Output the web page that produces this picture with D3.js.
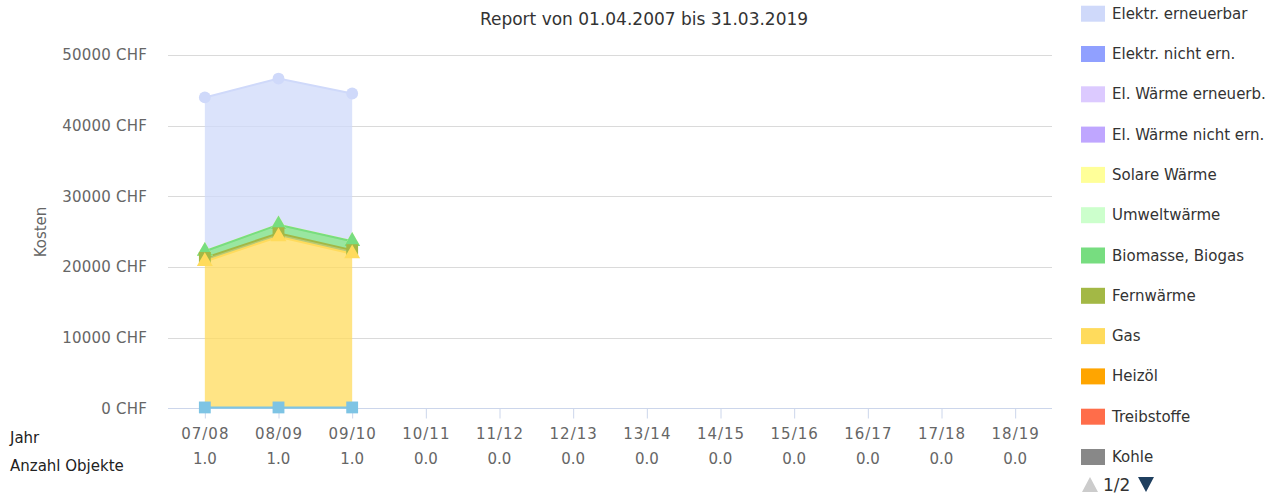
<!DOCTYPE html>
<html>
<head>
<meta charset="utf-8">
<script src="https://cdn.jsdelivr.net/npm/d3@7"></script>
<style>
  body { margin: 0; background: #fff; }
  text { font-family: "DejaVu Sans", "Lucida Grande", sans-serif; }
</style>
</head>
<body>
<script>
// categories + row below the axis
var years = ["07/08", "08/09", "09/10", "10/11", "11/12", "12/13", "13/14", "14/15", "15/16", "16/17", "17/18", "18/19"];
var objectCounts = ["1.0", "1.0", "1.0", "0.0", "0.0", "0.0", "0.0", "0.0", "0.0", "0.0", "0.0", "0.0"];
var yTicks = [0, 10000, 20000, 30000, 40000, 50000];

// series, in legend order (first one sits on top of the stack)
var seriesNames = ["Elektr. erneuerbar", "Elektr. nicht ern.", "El. Wärme erneuerb.", "El. Wärme nicht ern.",
  "Solare Wärme", "Umweltwärme", "Biomasse, Biogas", "Fernwärme", "Gas", "Heizöl", "Treibstoffe", "Kohle", "Weitere"];
var elektrErneuerbar = [21750, 20670, 20900];
var elektrNichtErn = [];
var elWaermeErneuerb = [];
var elWaermeNichtErn = [];
var solareWaerme = [0, 0, 0];
var umweltwaerme = [];
var biomasse = [950, 1200, 1250];
var fernwaerme = [500, 500, 500];
var gas = [20650, 24150, 21750];
var heizoel = [];
var treibstoffe = [];
var kohle = [];
var weitere = [150, 150, 150];
var seriesValues = [elektrErneuerbar, elektrNichtErn, elWaermeErneuerb, elWaermeNichtErn, solareWaerme,
  umweltwaerme, biomasse, fernwaerme, gas, heizoel, treibstoffe, kohle, weitere];

// styling
var colors = ["#cfd9fa", "#90a0ff", "#dccaff", "#bfa6ff", "#ffff99", "#ccffcc", "#77dd80", "#a3b845",
  "#ffdb5c", "#ffa500", "#ff6d4a", "#888888", "#7ec4e4"];
var symbols = [d3.symbolCircle, d3.symbolDiamond, d3.symbolSquare, d3.symbolTriangle, d3.symbolTriangle,
  d3.symbolCircle, d3.symbolTriangle, d3.symbolSquare, d3.symbolTriangle, d3.symbolTriangle,
  d3.symbolCircle, d3.symbolDiamond, d3.symbolSquare];

var drawChart = function() {
  var width = 1278, height = 499;
  var left = 168, right = 1052, plotTop = 55, bottom = 408.5;

  var svg = d3.select("body").append("svg")
    .attr("width", width)
    .attr("height", height);

  var x = d3.scalePoint().domain(years).range([left, right]).padding(0.5);
  var y = d3.scaleLinear().domain([0, 50000]).range([bottom, plotTop]);

  // title
  svg.append("text")
    .attr("x", 644).attr("y", 25)
    .attr("text-anchor", "middle")
    .attr("font-size", 17)
    .attr("fill", "#333")
    .text("Report von 01.04.2007 bis 31.03.2019");

  // gridlines
  svg.append("g").selectAll("line")
    .data(yTicks.filter(function(d) { return d > 0; }))
    .enter().append("line")
    .attr("x1", left).attr("x2", right)
    .attr("y1", function(d) { return Math.round(y(d)) + 0.5; })
    .attr("y2", function(d) { return Math.round(y(d)) + 0.5; })
    .attr("stroke", "#dadada");

  // y axis labels
  var yAxis = d3.axisLeft(y).tickValues(yTicks)
    .tickSize(0).tickPadding(21)
    .tickFormat(function(d) { return d + " CHF"; });
  var yg = svg.append("g").attr("transform", "translate(" + left + ",0)").call(yAxis);
  yg.select(".domain").remove();
  yg.selectAll("text")
    .attr("font-family", "DejaVu Sans")
    .attr("font-size", 15)
    .attr("letter-spacing", 0.2)
    .attr("fill", "#666");

  svg.append("text")
    .attr("transform", "translate(46,232) rotate(-90)")
    .attr("text-anchor", "middle")
    .attr("font-size", 15)
    .attr("fill", "#666")
    .text("Kosten");

  // x axis
  var xAxis = d3.axisBottom(x).tickSize(10).tickPadding(10);
  var xg = svg.append("g").attr("transform", "translate(0," + bottom + ")").call(xAxis);
  xg.select(".domain").attr("stroke", "#ccd6eb").attr("d", "M" + left + ",0H" + right);
  xg.selectAll(".tick line").attr("stroke", "#ccd6eb");
  xg.selectAll("text")
    .attr("font-family", "DejaVu Sans")
    .attr("font-size", 15)
    .attr("letter-spacing", 1)
    .attr("fill", "#666");

  // object counts row
  svg.append("g").selectAll("text")
    .data(objectCounts)
    .enter().append("text")
    .attr("x", function(d, i) { return x(years[i]); })
    .attr("y", 464)
    .attr("text-anchor", "middle")
    .attr("font-size", 15)
    .attr("fill", "#666")
    .text(function(d) { return d; });

  svg.append("text").attr("x", 10).attr("y", 443).attr("font-size", 15).attr("fill", "#222").text("Jahr");
  svg.append("text").attr("x", 10).attr("y", 471).attr("font-size", 15).attr("fill", "#222").text("Anzahl Objekte");

  // stacked areas (bottom of stack = last series)
  var table = years.map(function(yr, i) {
    var row = { year: yr };
    seriesNames.forEach(function(n, s) {
      var v = seriesValues[s][i];
      row[n] = v == null ? 0 : v;
    });
    return row;
  });
  var layers = d3.stack().keys(seriesNames.slice().reverse())(table);
  var layerByName = {};
  layers.forEach(function(l) { layerByName[l.key] = l; });

  var area = d3.area()
    .defined(function(d) { return d.has; })
    .x(function(d) { return x(d.data.year); })
    .y0(function(d) { return y(d[0]); })
    .y1(function(d) { return y(d[1]); });
  var line = d3.line()
    .defined(function(d) { return d.has; })
    .x(function(d) { return x(d.data.year); })
    .y(function(d) { return y(d[1]); });

  var drawn = seriesNames.map(function(n, s) {
    return layerByName[n].map(function(p, i) {
      p.has = seriesValues[s][i] != null;
      return p;
    });
  });

  var plot = svg.append("g");
  seriesNames.forEach(function(n, s) {
    if (seriesValues[s].length === 0) return;
    var g = plot.append("g");
    g.append("path")
      .attr("d", area(drawn[s]))
      .attr("fill", colors[s])
      .attr("fill-opacity", 0.75);
    g.append("path")
      .attr("d", line(drawn[s]))
      .attr("fill", "none")
      .attr("stroke", colors[s])
      .attr("stroke-width", 2);
  });
  seriesNames.forEach(function(n, s) {
    if (seriesValues[s].length === 0) return;
    var sym = d3.symbol().type(symbols[s]).size(symbols[s] === d3.symbolSquare ? 140 : 110);
    plot.append("g").selectAll("path")
      .data(drawn[s].filter(function(d) { return d.has; }))
      .enter().append("path")
      .attr("transform", function(d) { return "translate(" + x(d.data.year) + "," + y(d[1]) + ")"; })
      .attr("d", sym)
      .attr("fill", colors[s]);
  });

  // legend (page 1 of 2)
  var legendNames = seriesNames.slice(0, 12);
  var leg = svg.append("g").selectAll("g")
    .data(legendNames)
    .enter().append("g")
    .attr("transform", function(d, i) { return "translate(1081," + (13.7 + i * 40.3) + ")"; });
  leg.append("rect")
    .attr("x", 0).attr("y", -8)
    .attr("width", 24).attr("height", 16)
    .attr("fill", function(d, i) { return colors[i]; });
  leg.append("text")
    .attr("x", 31).attr("y", 5)
    .attr("font-size", 15)
    .attr("fill", "#333")
    .text(function(d) { return d; });

  // pager
  svg.append("path").attr("d", "M1082,492L1090,477L1098,492Z").attr("fill", "#cccccc");
  svg.append("text").attr("x", 1103).attr("y", 491).attr("font-size", 17).attr("fill", "#333").text("1/2");
  svg.append("path").attr("d", "M1138,477L1154,477L1146,492Z").attr("fill", "#1f3f5f");
}

drawChart();
</script>
</body>
</html>
